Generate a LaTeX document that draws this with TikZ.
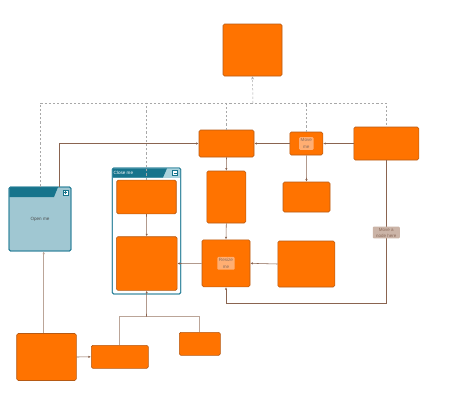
\documentclass[tikz,border=0pt]{standalone}
\usepackage{fontspec}
\setmainfont{Liberation Sans}
\usetikzlibrary{arrows.meta,calc}
\definecolor{org}{HTML}{FF7300}
\definecolor{orgd}{HTML}{B65A14}
\definecolor{lblc}{HTML}{FFAE72}
\definecolor{lbltxt}{HTML}{8A6A5A}
\definecolor{edgec}{HTML}{8A6450}
\definecolor{edgel}{HTML}{BBA598}
\definecolor{dashc}{HTML}{A8A8A8}
\definecolor{tealdk}{HTML}{17748C}
\definecolor{tealbd}{HTML}{2A8099}
\definecolor{winbody}{HTML}{A0C7D2}
\definecolor{tlight}{HTML}{AAD3DD}
\definecolor{tanc}{HTML}{CBB4A7}
\begin{document}
\begin{tikzpicture}[x=1pt,y=-1pt,
  box/.style={draw=orgd, fill=org, line width=0.6pt, rounded corners=1.5pt, inner sep=0pt},
  lbl/.style={fill=lblc, rounded corners=1pt, font=\fontsize{4.6}{6.2}\selectfont, text=lbltxt, align=center, inner sep=1.6pt},
  edge/.style={draw=edgec, line width=0.55pt, -{Latex[length=2.6pt,width=2.3pt]}},
  ledge/.style={draw=edgel, line width=0.7pt},
  dedge/.style={draw=dashc, line width=0.5pt, dash pattern=on 2.2pt off 2pt},
  btn/.style={draw=tealdk, line width=0.3pt, fill=white, minimum size=5pt, inner sep=0pt},
  win/.style={draw=tealbd, line width=0.8pt, rounded corners=1.5pt, inner sep=0pt}]
\useasboundingbox (0,0) rectangle (460,400);
\fill[white] (0,0) rectangle (460,400);

% windows
\node[win, fill=winbody, minimum width=62pt, minimum height=64pt] (om) at (40,219) {};
\fill[tealdk] (9.4,187.2) -- (58,187.2) -- (54,197) -- (9.4,197) -- cycle;
\node[win, fill opacity=0, minimum width=62pt, minimum height=64pt] at (40,219) {};
\node[font=\fontsize{4.6}{5.5}\selectfont, text=black!70] (omt) at (40,219) {Open me};
\node[btn] (omb) at (65.7,192.5) {};
\draw[tealdk, line width=0.5pt] ([xshift=-1.5pt]omb.center) -- ([xshift=1.5pt]omb.center);
\draw[tealdk, line width=0.5pt] ([yshift=-1.5pt]omb.center) -- ([yshift=1.5pt]omb.center);

\node[win, fill=white, minimum width=68.5pt, minimum height=126pt] (cm) at (146.5,231) {};
\fill[tlight] (112.4,168.4) -- (180.4,168.4) -- (180.4,177.5) -- (112.4,177.5) -- cycle;
\fill[tealdk] (112.4,168.4) -- (167,168.4) -- (163,177.5) -- (112.4,177.5) -- cycle;
\node[win, fill opacity=0, minimum width=68.5pt, minimum height=126pt] at (146.5,231) {};
\node[anchor=west, font=\fontsize{4.6}{5.5}\selectfont, text=white, inner sep=0pt] (cmt) at (113.5,172.8) {Close me};
\node[btn] (cmb) at (175,173) {};
\draw[tealdk, line width=0.5pt] ([xshift=-1.5pt]cmb.center) -- ([xshift=1.5pt]cmb.center);

% boxes
\node[box, minimum width=59pt, minimum height=52pt] (top) at (252.5,50) {};
\node[box, minimum width=55pt, minimum height=27pt] (A) at (226.5,143.5) {};
\node[box, minimum width=33pt, minimum height=23pt] (mv) at (306.3,143.5) {};
\node[lbl] (mvl) at (306.3,143.5) {Move\\me};
\node[box, minimum width=65pt, minimum height=33pt] (B) at (386.3,143.5) {};
\node[box, minimum width=47pt, minimum height=30pt] (E) at (306.5,197) {};
\node[box, minimum width=39pt, minimum height=52pt] (T) at (226.3,197) {};
\node[box, minimum width=48pt, minimum height=47pt] (R) at (226,263.3) {};
\node[lbl] (rl) at (226,263.3) {Resize\\me};
\node[box, minimum width=57pt, minimum height=46pt] (F) at (306.3,264) {};
\node[box, minimum width=59.5pt, minimum height=33.7pt] (I1) at (146.5,197) {};
\node[box, minimum width=60.7pt, minimum height=53.6pt] (I2) at (146.7,263.5) {};
\node[box, minimum width=59.6pt, minimum height=47pt] (BB) at (46.5,357) {};
\node[box, minimum width=57pt, minimum height=23pt] (C) at (119.8,356.8) {};
\node[box, minimum width=41pt, minimum height=23pt] (D) at (199.8,343.8) {};

% solid connectors
\draw[ledge, -{Latex[length=2.6pt,width=2.3pt]}] ([xshift=-2.8pt]BB.north) -- ([xshift=-2.8pt]BB.north |- om.south);
\draw[edge] (BB.east) -- (C.west);
\coordinate (j) at (146.5,316.7);
\draw[ledge] (C.north) |- (j);
\draw[ledge] (D.north) |- (j);
\draw[edge] (j) -- (I2.south);
\draw[edge] ([xshift=19.3pt]om.north) |- (A.west);
\draw[edge] (mv.west) -- (A.east);
\draw[edge] (B.west) -- (mv.east);
\draw[edge] (A.south) -- (T.north);
\draw[edge] (mv.south) -- (E.north);
\draw[edge] (T.south) -- (R.north);
\draw[edge] (I1.south) -- (I2.north);
\draw[edge] (R.west) -- (I2.east);
\draw[edge] (F.west) -- (R.east);
\coordinate (k) at (386.3,303.3);
\draw[edge] (B.south) -- (k) -| (R.south);
\node[fill=tanc, rounded corners=1pt, font=\fontsize{4.5}{6}\selectfont, text=lbltxt, align=center, inner sep=1.3pt, minimum width=27pt] (mn) at (386.3,232.5) {Move a\\node here};

% dashed connectors
\coordinate (dj) at (253,103);
\draw[dedge] (om.north) |- (B.north |- dj) -- (B.north);
\draw[dedge] (I1.north) -- (I1.north |- dj);
\draw[dedge] (A.north) -- (A.north |- dj);
\draw[dedge] (mv.north) -- (mv.north |- dj);
\draw[dedge, -{Stealth[length=3.2pt,width=3pt,open]}] (dj) -- (top.south);
\end{tikzpicture}
\end{document}
